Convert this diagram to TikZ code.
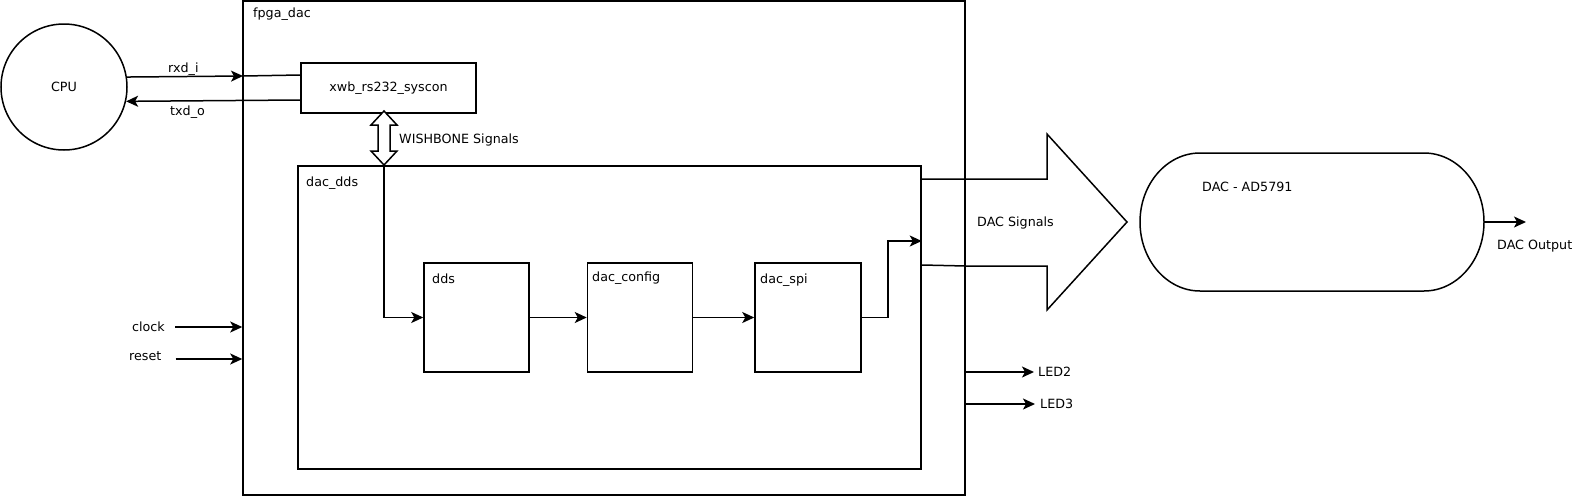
\documentclass[tikz,border=0pt]{standalone}
\usepackage{fontspec}
\setmainfont{DejaVu Sans}
\usepackage{tikz}
\usetikzlibrary{arrows.meta,positioning,calc}
\tikzstyle{block}=[draw, rectangle, line width=1.5pt, inner sep=0pt]
\tikzstyle{lbl}=[anchor=base west, inner sep=0pt]
\tikzstyle{wire}=[line width=1.5pt]

\begin{document}
\begin{tikzpicture}[x=1pt, y=-1pt, >={Stealth[length=12pt,width=11pt,inset=3pt]},
                    font=\fontsize{12.7}{15}\selectfont]
                        \useasboundingbox (0,0) rectangle (1575,496);
                        % outer blocks
                        \node [block, minimum width=722pt, minimum height=494pt] (fpga) at (604,248) {};
                        \node [lbl] (fpgalbl) at (253,17) {fpga\_dac};
                        \node [block, circle, minimum size=126pt] (cpu) at (64,87) {CPU};
                        \node [block, minimum width=175pt, minimum height=50pt] (xwb) at (388.5,88) {xwb\_rs232\_syscon};
                        \node [block, minimum width=623pt, minimum height=303pt] (dacdds) at (609.5,317.5) {};
                        \node [lbl] (ddslbl2) at (306,186) {dac\_dds};
                        % inner chain
                        \node [block, minimum width=105pt, minimum height=109pt] (dds) at (476.5,317.5) {};
                        \node [block, minimum width=105pt, minimum height=109pt, right=57pt of dds] (cfg) {};
                        \node [block, minimum width=106pt, minimum height=109pt, right=61pt of cfg] (spi) {};
                        \node [lbl] (ddslbl) at (432,283) {dds};
                        \node [lbl] (cfglbl) at (592,281) {dac\_config};
                        \node [lbl] (spilbl) at (760,283) {dac\_spi};
                        % uart lines
                        \coordinate (rxin) at (243,76);
                        \draw [wire,->] (cpu.9) -- (rxin);
                        \draw [wire] (rxin) -- (xwb.west |- 0,75);
                        \draw [wire,->] (xwb.west |- 0,100) -- (cpu.-13);
                        \node [lbl] (rxd) at (168,72) {rxd\_i};
                        \node [lbl] (txd) at (170,115) {txd\_o};
                        % wishbone
                        \coordinate (wbtop) at (384,111);
                        \coordinate (wbbot) at (384,165);
                        \draw [wire, fill=white, line join=miter] (wbtop) -- ++(-13,14) -- ++(7,0) -- ++(0,26) -- ++(-7,0)
                            -- (wbbot) -- ++(13,-14) -- ++(-7,0) -- ++(0,-26) -- ++(7,0) -- cycle;
                        \node [lbl] (wblbl) at (399,143) {WISHBONE Signals};
                        \draw [wire,->] (wbbot) |- (dds.west);
                        \draw [wire,->] (dds.east) -- (cfg.west);
                        \draw [wire,->] (cfg.east) -- (spi.west);
                        \draw [wire,->] (spi.east) -- ++(26,0) |- (dacdds.east |- 0,241);
                        % dac signals
                        \draw [wire, line join=miter] (dacdds.east |- 0,179) -- (1047,179) -- (1047,134) -- (1127,222)
                            -- (1047,310) -- (1047,266) -- (966,266) -- (dacdds.east |- 0,265);
                        \node [lbl] (dacsig) at (977,226) {DAC Signals};
                        % dac chip
                        \node [minimum width=344pt, minimum height=138pt, inner sep=0pt] (dac) at (1312,222) {};
                        \draw [wire] (1200,153) -- (1424,153) arc[start angle=-90, end angle=90, x radius=60, y radius=69]
                            -- (1200,291) arc[start angle=90, end angle=270, x radius=60, y radius=69] -- cycle;
                        \node [lbl] (daclbl) at (1202,191) {DAC - AD5791};
                        \coordinate (dacout) at (1526,222);
                        \draw [wire,->] (dac.east) -- (dacout);
                        \node [lbl] (outlbl) at (1497,249) {DAC Output};
                        % clock, reset, leds
                        \node [anchor=west, inner sep=0pt] (clk) at (132,327) {clock};
                        \node [anchor=west, inner sep=0pt] (rst) at (129,356) {reset};
                        \draw [wire,->] ([xshift=10pt]clk.east) -- (clk.east -| fpga.west);
                        \draw [wire,->] ([xshift=14pt]rst.east |- 0,359) -- (fpga.west |- 0,359);
                        \node [anchor=west, inner sep=0pt] (led2) at (1038,372) {LED2};
                        \node [anchor=west, inner sep=0pt] (led3) at (1040,404) {LED3};
                        \draw [wire,->,shorten >=4pt] (fpga.east |- led2.west) -- (led2.west);
                        \draw [wire,->,shorten >=5pt] (fpga.east |- led3.west) -- (led3.west);
                    \end{tikzpicture}
\end{document}
